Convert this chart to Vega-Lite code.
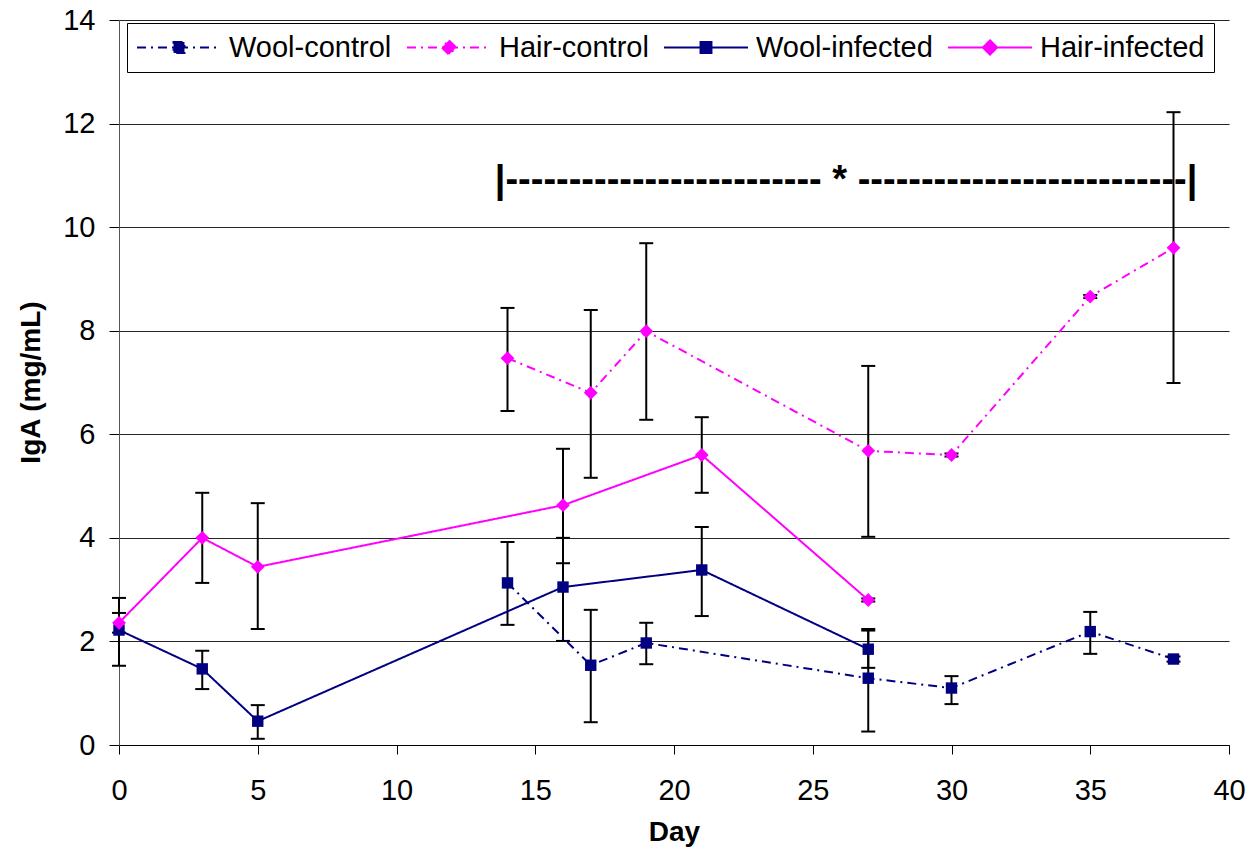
{
  "$schema": "https://vega.github.io/schema/vega-lite/v6.json",
  "width": 1110,
  "height": 725,
  "autosize": "none",
  "padding": {"left": 119, "top": 20, "right": 30, "bottom": 107},
  "background": "white",
  "config": {
    "view": {"stroke": null},
    "font": "Liberation Sans",
    "axis": {"labelFont": "Liberation Sans", "titleFont": "Liberation Sans", "labelColor": "black", "titleColor": "black"}
  },
  "datasets": {
    "iga": [
      {"series": "Wool-control", "day": 14, "iga": 3.13, "lo": 2.32, "hi": 3.92},
      {"series": "Wool-control", "day": 17, "iga": 1.54, "lo": 0.44, "hi": 2.61},
      {"series": "Wool-control", "day": 19, "iga": 1.97, "lo": 1.56, "hi": 2.36},
      {"series": "Wool-control", "day": 27, "iga": 1.29, "lo": 0.26, "hi": 2.21},
      {"series": "Wool-control", "day": 30, "iga": 1.10, "lo": 0.79, "hi": 1.33},
      {"series": "Wool-control", "day": 35, "iga": 2.19, "lo": 1.76, "hi": 2.57},
      {"series": "Wool-control", "day": 38, "iga": 1.66, "lo": 1.61, "hi": 1.71},
      {"series": "Hair-control", "day": 14, "iga": 7.47, "lo": 6.45, "hi": 8.44},
      {"series": "Hair-control", "day": 17, "iga": 6.80, "lo": 5.16, "hi": 8.40},
      {"series": "Hair-control", "day": 19, "iga": 7.99, "lo": 6.28, "hi": 9.69},
      {"series": "Hair-control", "day": 27, "iga": 5.68, "lo": 4.02, "hi": 7.32},
      {"series": "Hair-control", "day": 30, "iga": 5.60, "lo": 5.57, "hi": 5.63},
      {"series": "Hair-control", "day": 35, "iga": 8.66, "lo": 8.63, "hi": 8.69},
      {"series": "Hair-control", "day": 38, "iga": 9.60, "lo": 6.99, "hi": 12.22},
      {"series": "Wool-infected", "day": 0, "iga": 2.22, "lo": 1.53, "hi": 2.84},
      {"series": "Wool-infected", "day": 3, "iga": 1.47, "lo": 1.08, "hi": 1.82},
      {"series": "Wool-infected", "day": 5, "iga": 0.46, "lo": 0.12, "hi": 0.77},
      {"series": "Wool-infected", "day": 16, "iga": 3.05, "lo": 2.01, "hi": 4.00},
      {"series": "Wool-infected", "day": 21, "iga": 3.38, "lo": 2.49, "hi": 4.21},
      {"series": "Wool-infected", "day": 27, "iga": 1.85, "lo": 1.49, "hi": 2.24},
      {"series": "Hair-infected", "day": 0, "iga": 2.36, "lo": 2.17, "hi": 2.55},
      {"series": "Hair-infected", "day": 3, "iga": 4.00, "lo": 3.13, "hi": 4.87},
      {"series": "Hair-infected", "day": 5, "iga": 3.44, "lo": 2.24, "hi": 4.67},
      {"series": "Hair-infected", "day": 16, "iga": 4.63, "lo": 3.51, "hi": 5.72},
      {"series": "Hair-infected", "day": 21, "iga": 5.60, "lo": 4.87, "hi": 6.33},
      {"series": "Hair-infected", "day": 27, "iga": 2.80, "lo": 2.77, "hi": 2.83}
    ],
    "note": [
      {"day": 26.2, "iga": 10.9, "label": "|-------------------------  *  --------------------------|"}
    ]
  },
  "encoding": {
    "x": {
      "field": "day", "type": "quantitative",
      "scale": {"domain": [0, 40], "nice": false, "zero": false},
      "axis": {
        "title": "Day", "values": [0, 5, 10, 15, 20, 25, 30, 35, 40],
        "grid": false, "domainColor": "black", "tickColor": "black", "tickSize": 9,
        "labelFontSize": 29, "labelPadding": 22, "labelFlush": false,
        "titleFontSize": 28, "titleFontWeight": "bold",
        "titleBaseline": "alphabetic", "titleX": 555, "titleY": 95
      }
    },
    "y": {
      "field": "iga", "type": "quantitative",
      "scale": {"domain": [0, 14], "nice": false},
      "axis": {
        "title": "IgA (mg/mL)", "values": [0, 2, 4, 6, 8, 10, 12, 14],
        "grid": true, "gridColor": "black", "gridOpacity": 0.85, "gridWidth": 1,
        "domainColor": "#555", "tickColor": "black", "tickSize": 10,
        "labelFontSize": 29, "labelPadding": 14, "labelFlush": false,
        "titleFontSize": 28, "titleFontWeight": "bold", "titleAngle": -90,
        "titleAlign": "center", "titleBaseline": "alphabetic", "titleX": -80, "titleY": 362
      }
    }
  },
  "layer": [
    {
      "data": {"name": "iga"},
      "mark": {"type": "rule", "color": "black", "strokeWidth": 2},
      "encoding": {"y": {"field": "lo", "type": "quantitative"}, "y2": {"field": "hi"}}
    },
    {
      "data": {"name": "iga"},
      "mark": {"type": "tick", "orient": "horizontal", "color": "black", "size": 14, "thickness": 2, "opacity": 1},
      "encoding": {"y": {"field": "lo", "type": "quantitative"}}
    },
    {
      "data": {"name": "iga"},
      "mark": {"type": "tick", "orient": "horizontal", "color": "black", "size": 14, "thickness": 2, "opacity": 1},
      "encoding": {"y": {"field": "hi", "type": "quantitative"}}
    },
    {
      "data": {"name": "iga"},
      "mark": {"type": "line", "strokeWidth": 2},
      "encoding": {
        "color": {
          "field": "series", "type": "nominal",
          "scale": {"domain": ["Wool-control", "Hair-control", "Wool-infected", "Hair-infected"], "range": ["#000080", "#ff00ff", "#000080", "#ff00ff"]},
          "legend": {
            "title": null, "orient": "none", "legendX": 8, "legendY": 3,
            "direction": "horizontal", "columns": 4, "columnPadding": 14,
            "strokeColor": "black", "fillColor": "white", "padding": 9, "cornerRadius": 0,
            "symbolSize": 7056, "clipHeight": 31, "labelOffset": 7,
            "labelFont": "Liberation Sans", "labelFontSize": 29, "labelColor": "black", "labelLimit": 400,
            "encode": {
              "symbols": {
                "update": {
                  "shape": {"signal": "indexof(datum.value,'Wool')>=0 ? 'M-1,0H1M-0.13,-0.13H0.13V0.13H-0.13Z' : 'M-1,0H1M0,-0.17L0.17,0L0,0.17L-0.17,0Z'"},
                  "fill": {"signal": "indexof(datum.value,'Wool')>=0 ? '#000080' : '#ff00ff'"},
                  "stroke": {"signal": "indexof(datum.value,'Wool')>=0 ? '#000080' : '#ff00ff'"},
                  "strokeDash": {"signal": "indexof(datum.value,'control')>=0 ? [8,5,2,5] : [1,0]"},
                  "strokeWidth": {"value": 2},
                  "opacity": {"value": 1},
                  "fillOpacity": {"value": 1}
                }
              }
            }
          }
        },
        "strokeDash": {
          "field": "series", "type": "nominal",
          "scale": {"domain": ["Wool-control", "Hair-control", "Wool-infected", "Hair-infected"], "range": [[9, 5, 2, 5], [9, 5, 2, 5], [1, 0], [1, 0]]},
          "legend": null
        }
      }
    },
    {
      "data": {"name": "iga"},
      "transform": [{"filter": "indexof(datum.series,'Wool')>=0"}],
      "mark": {"type": "point", "shape": "square", "filled": true, "size": 130, "opacity": 1},
      "encoding": {"color": {"field": "series", "type": "nominal"}}
    },
    {
      "data": {"name": "iga"},
      "transform": [{"filter": "indexof(datum.series,'Hair')>=0"}],
      "mark": {"type": "point", "shape": "diamond", "filled": true, "size": 190, "opacity": 1},
      "encoding": {"color": {"field": "series", "type": "nominal"}}
    },
    {
      "data": {"name": "note"},
      "mark": {"type": "text", "font": "Liberation Sans", "fontWeight": "bold", "fontSize": 38, "color": "black", "align": "center", "baseline": "middle"},
      "encoding": {"text": {"field": "label"}}
    }
  ]
}
